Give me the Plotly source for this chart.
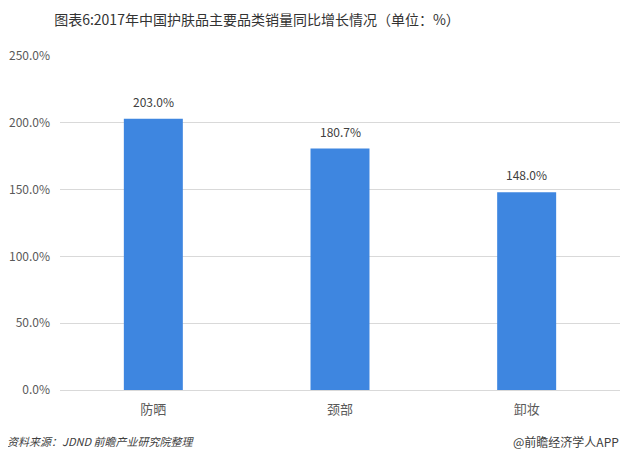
import plotly.graph_objects as go

categories = ["防晒", "颈部", "卸妆"]
values = [203.0, 180.7, 148.0]
tick_vals = [0, 50, 100, 150, 200, 250]
tick_text = ["0.0%", "50.0%", "100.0%", "150.0%", "200.0%", "250.0%"]

FONT = "Noto Sans CJK SC, Microsoft YaHei, sans-serif"

# page body has an ~8px default margin on every side; keep the figure inside the window
OFF = 8
W, H = 630 - 2 * OFF, 463 - 2 * OFF
L, T = 60 - OFF, 56 - OFF
R = W - (620 - OFF)
B = H - (390 - OFF)

fig = go.Figure()
fig.add_trace(go.Bar(
    x=categories, y=values,
    marker=dict(color="#3E86E0", line=dict(width=0)),
    width=0.316,
    hoverinfo="skip",
))

annotations = [
    dict(x=c, y=v, xref="x", yref="y", text=f"{v:.1f}%", showarrow=False,
         yanchor="bottom", yshift=7,
         font=dict(size=12, color="#404040", family=FONT))
    for c, v in zip(categories, values)
]

annotations += [
    dict(text="<i>资料来源：JDND 前瞻产业研究院整理</i>", x=0, y=0,
         xref="paper", yref="paper", showarrow=False, xanchor="left", yanchor="middle",
         xshift=5 - 60, yshift=-(441 - 390),
         font=dict(size=11, color="#404040", family=FONT)),
    dict(text="@前瞻经济学人APP", x=1, y=0, xref="paper", yref="paper",
         showarrow=False, xanchor="right", yanchor="middle",
         xshift=1, yshift=-(441 - 390),
         font=dict(size=12, color="#404040", family=FONT)),
]

fig.update_layout(
    width=W, height=H,
    margin=dict(l=L, r=R, t=T, b=B, autoexpand=False),
    paper_bgcolor="white", plot_bgcolor="white",
    font=dict(family=FONT),
    showlegend=False,
    title=dict(text="图表6:2017年中国护肤品主要品类销量同比增长情况（单位：%）",
               x=(257 - OFF) / W, xanchor="center", xref="container",
               y=1 - (20 - OFF) / H, yanchor="middle",
               font=dict(size=14, color="#333333", family=FONT)),
    xaxis=dict(showline=False, ticks="", automargin=False, ticklabelstandoff=10,
               tickfont=dict(size=13, color="#595959")),
    yaxis=dict(range=[0, 250], tickvals=tick_vals, ticktext=tick_text, automargin=False,
               showgrid=True, gridcolor="#D9D9D9", gridwidth=1,
               zeroline=True, zerolinecolor="#D9D9D9", zerolinewidth=1,
               tickfont=dict(size=12, color="#595959"), ticklabelstandoff=9),
    annotations=annotations,
)

fig.write_html("out.html")
